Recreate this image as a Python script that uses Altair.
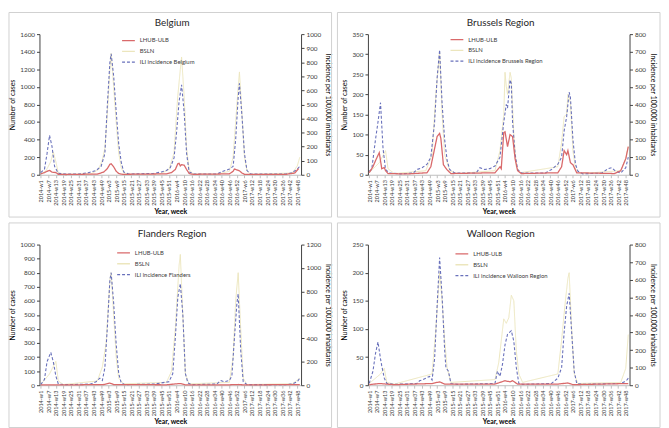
import altair as alt
import pandas as pd

# ---------------- tick labels (every 6th week, index = weeks since 2014-w1) ----
WEEK_TICKS = ["2014-w1", "2014-w7", "2014-w13", "2014-w19", "2014-w25", "2014-w31",
              "2014-w37", "2014-w43", "2014-w49", "2015-w3", "2015-w9", "2015-w15",
              "2015-w21", "2015-w27", "2015-w33", "2015-w39", "2015-w45", "2015-w51",
              "2016-w4", "2016-w10", "2016-w16", "2016-w22", "2016-w28", "2016-w34",
              "2016-w40", "2016-w46", "2016-w52", "2017-w6", "2017-w12", "2017-w18",
              "2017-w24", "2017-w30", "2017-w36", "2017-w42", "2017-w48"]
TICK_POS = [6 * i for i in range(len(WEEK_TICKS))]

# ---------------- Belgium ----------------
BE_LHUB_W = [0, 3, 6, 7, 9, 12, 14, 20, 45, 50, 53, 55, 56, 58, 60, 62, 65, 100, 104, 107, 109, 110, 111, 112, 114, 116, 118, 121, 150, 153, 154, 156, 158, 160, 162, 195, 202, 205]
BE_LHUB_V = [10, 25, 45, 50, 30, 25, 5, 3, 8, 30, 70, 120, 125, 90, 40, 15, 5, 10, 25, 60, 125, 130, 100, 115, 110, 60, 15, 5, 10, 40, 65, 55, 45, 20, 5, 5, 20, 70]
BE_BSLN_W = [0, 4, 8, 10, 12, 14, 18, 40, 46, 49, 51, 53, 55, 56, 58, 60, 62, 64, 66, 70, 95, 102, 106, 108, 109, 111, 112, 114, 116, 118, 121, 140, 150, 153, 155, 157, 158, 160, 162, 164, 167, 200, 204, 206]
BE_BSLN_V = [10, 40, 150, 260, 150, 20, 5, 10, 60, 170, 300, 700, 1200, 1380, 1000, 600, 250, 80, 20, 5, 10, 60, 250, 700, 900, 1200, 1340, 900, 300, 60, 10, 5, 40, 200, 600, 1000, 1170, 700, 200, 40, 5, 20, 100, 200]
BE_ILI_W = [0, 3, 5, 7, 9, 11, 14, 20, 30, 38, 44, 48, 51, 53, 55, 56, 58, 60, 62, 64, 66, 70, 90, 96, 100, 103, 106, 108, 110, 112, 114, 116, 118, 122, 140, 145, 150, 153, 155, 157, 158, 160, 162, 164, 167, 195, 200, 204, 206]
BE_ILI_V = [15, 40, 150, 280, 200, 60, 10, 5, 5, 15, 30, 60, 150, 500, 800, 860, 700, 450, 220, 90, 20, 5, 10, 20, 30, 50, 120, 300, 520, 640, 450, 150, 20, 5, 5, 25, 40, 60, 250, 550, 650, 420, 150, 30, 5, 5, 15, 40, 60]

# ---------------- Brussels Region ----------------
BR_LHUB_W = [0, 3, 5, 8, 10, 12, 13, 15, 30, 46, 49, 51, 54, 56, 57, 59, 62, 65, 100, 104, 105, 107, 108, 110, 112, 114, 116, 118, 121, 150, 153, 155, 157, 158, 160, 162, 165, 195, 200, 204, 206]
BR_LHUB_V = [5, 20, 35, 55, 15, 18, 10, 3, 2, 5, 20, 50, 95, 103, 90, 25, 12, 3, 5, 20, 15, 105, 107, 70, 100, 95, 40, 10, 3, 5, 20, 60, 50, 60, 30, 25, 5, 3, 10, 40, 70]
BR_BSLN_W = [0, 8, 13, 15, 20, 45, 50, 53, 56, 58, 60, 62, 64, 70, 100, 104, 107, 108, 109, 110, 112, 113, 115, 117, 120, 150, 153, 155, 157, 158, 160, 162, 164, 168, 200, 204, 206]
BR_BSLN_V = [5, 30, 60, 15, 3, 10, 50, 200, 305, 150, 50, 30, 10, 3, 10, 60, 150, 255, 220, 200, 255, 240, 100, 20, 5, 20, 80, 145, 150, 200, 180, 60, 15, 3, 10, 40, 70]
BR_ILI_W = [0, 2, 5, 7, 9, 11, 13, 16, 25, 35, 38, 42, 46, 49, 52, 54, 56, 58, 60, 62, 64, 68, 85, 88, 92, 96, 100, 104, 107, 109, 110, 112, 113, 114, 116, 118, 121, 140, 145, 150, 153, 155, 157, 159, 160, 162, 164, 166, 170, 185, 190, 193, 196, 200, 204, 206]
BR_ILI_V = [20, 30, 200, 300, 410, 150, 30, 10, 5, 10, 30, 40, 60, 100, 300, 550, 710, 400, 200, 80, 30, 10, 10, 40, 30, 35, 50, 100, 300, 400, 380, 540, 520, 300, 120, 30, 10, 10, 30, 60, 100, 250, 330, 470, 440, 200, 60, 20, 5, 10, 35, 40, 20, 10, 40, 100]

# ---------------- Flanders Region ----------------
FL_LHUB_W = [0, 20, 50, 55, 58, 100, 108, 111, 115, 150, 157, 162, 206]
FL_LHUB_V = [3, 2, 5, 15, 5, 3, 10, 12, 3, 3, 5, 2, 5]
FL_BSLN_W = [0, 7, 12, 14, 18, 45, 49, 52, 55, 56, 58, 60, 62, 66, 100, 104, 107, 110, 111, 113, 115, 118, 150, 153, 155, 157, 159, 161, 164, 200, 206]
FL_BSLN_V = [5, 80, 170, 30, 5, 30, 130, 300, 750, 800, 500, 200, 50, 10, 20, 100, 400, 850, 930, 500, 80, 10, 20, 200, 600, 800, 400, 50, 5, 10, 50]
FL_ILI_W = [0, 3, 5, 8, 10, 12, 14, 20, 40, 44, 47, 49, 51, 53, 55, 56, 58, 60, 62, 64, 67, 90, 96, 102, 105, 107, 109, 111, 113, 115, 117, 120, 140, 143, 146, 150, 152, 154, 156, 157, 159, 161, 164, 195, 200, 204, 206]
FL_ILI_V = [5, 50, 200, 280, 200, 80, 10, 5, 10, 30, 60, 40, 150, 500, 900, 960, 700, 350, 100, 20, 5, 10, 20, 30, 100, 400, 750, 866, 600, 100, 20, 5, 10, 40, 30, 40, 80, 400, 700, 780, 300, 30, 5, 5, 10, 30, 60]

# ---------------- Walloon Region ----------------
WA_LHUB_W = [0, 8, 20, 50, 56, 60, 100, 108, 112, 114, 118, 150, 158, 162, 206]
WA_LHUB_V = [1, 3, 1, 3, 6, 2, 2, 8, 6, 8, 2, 2, 4, 1, 3]
WA_BSLN_W = [0, 9, 12, 14, 20, 50, 53, 56, 58, 60, 62, 65, 100, 103, 107, 109, 111, 113, 115, 117, 119, 122, 150, 153, 156, 158, 159, 161, 163, 166, 200, 204, 206]
WA_BSLN_V = [3, 20, 30, 5, 2, 20, 100, 200, 150, 80, 30, 5, 10, 40, 118, 110, 120, 160, 150, 60, 20, 5, 20, 80, 150, 190, 200, 100, 20, 3, 5, 30, 90]
WA_ILI_W = [0, 3, 5, 7, 9, 10, 12, 14, 20, 38, 40, 42, 45, 48, 50, 52, 54, 56, 58, 60, 61, 63, 65, 70, 100, 102, 104, 106, 108, 110, 113, 115, 117, 119, 122, 145, 150, 153, 155, 157, 159, 161, 163, 165, 170, 200, 203, 205, 206]
WA_ILI_V = [10, 80, 180, 246, 150, 110, 40, 10, 5, 10, 25, 30, 40, 50, 30, 150, 450, 726, 500, 200, 100, 80, 10, 5, 10, 80, 50, 120, 230, 290, 310, 250, 100, 10, 5, 10, 40, 100, 300, 450, 523, 300, 80, 10, 5, 10, 20, 30, 40]

COLORS = ["#d9696a", "#ece6bd", "#6870bb"]
DASHES = [[1, 0], [1, 0], [3, 2]]
FONT = "Lato"

PLOT_W, PLOT_H = 266, 143
BOX_L, BOX_T, BOX_W, BOX_H = 31, 22, 328, 208

label_expr = "[" + ",".join("'%s'" % t for t in WEEK_TICKS) + "][datum.value / 6]"


def panel(title, ili_label, lhub, bsln, ili, left_max, left_step, right_max, right_step, lx, ly):
    names = ["LHUB-ULB", "BSLN", ili_label]
    rows = []
    for name, (wk, vals) in zip(names, [lhub, bsln, ili]):
        for w, v in zip(wk, vals):
            rows.append({"week": w, "value": v, "series": name})
    df = pd.DataFrame(rows)

    leg = alt.Legend(title=None, orient="none", legendX=lx, legendY=ly,
                     symbolType="stroke", symbolSize=169, symbolStrokeWidth=1.3,
                     labelFontSize=6, labelFont=FONT, labelColor="#404040",
                     rowPadding=0, labelOffset=4)
    color = alt.Color("series:N", scale=alt.Scale(domain=names, range=COLORS), legend=leg)
    dash = alt.StrokeDash("series:N", scale=alt.Scale(domain=names, range=DASHES), legend=leg)
    x = alt.X("week:Q", scale=alt.Scale(domain=[-1, 207], nice=False, zero=False),
              axis=alt.Axis(values=TICK_POS, labelExpr=label_expr, labelAngle=-90,
                            labelAlign="right", labelBaseline="middle",
                            title="Year, week", titleFontWeight="bold", titleFontSize=7,
                            titlePadding=2, labelFontSize=5.6, grid=False,
                            domainColor="#bfbfbf", tickColor="#bfbfbf", tickSize=3,
                            labelPadding=2, labelColor="#404040", labelFlush=False,
                            labelOverlap=False))
    base = alt.Chart(df).encode(x=x, color=color, strokeDash=dash)

    def ycfg(mx, step, orient, ttl, show=True):
        if show:
            ax = alt.Axis(orient=orient, title=ttl, values=list(range(0, mx + 1, step)),
                          format="d", grid=False, domainColor="#404040", tickColor="#404040",
                          tickSize=3, labelFontSize=6.5, labelColor="#404040",
                          titleFontSize=7, titleFontWeight="normal", titlePadding=4,
                          labelPadding=2)
            return alt.Y("value:Q", scale=alt.Scale(domain=[0, mx], nice=False), axis=ax)
        return alt.Y("value:Q", scale=alt.Scale(domain=[0, mx], nice=False), axis=None)

    l_bsln = base.transform_filter(alt.datum.series == "BSLN").mark_line(
        strokeWidth=1).encode(y=ycfg(left_max, left_step, "left", "", show=False))
    l_ili = base.transform_filter(alt.datum.series == ili_label).mark_line(
        strokeWidth=1.1).encode(y=ycfg(right_max, right_step, "right",
                                       "Incidence per 100,000 inhabitants"))
    l_lhub = base.transform_filter(alt.datum.series == "LHUB-ULB").mark_line(
        strokeWidth=1.3).encode(y=ycfg(left_max, left_step, "left", "Number of cases"))

    one = pd.DataFrame({"k": [0]})
    frame = alt.Chart(one).mark_rect(fillOpacity=0, stroke="#d0d0d0", strokeWidth=1).encode(
        x=alt.value(-BOX_L), x2=alt.value(BOX_W - BOX_L),
        y=alt.value(-BOX_T), y2=alt.value(BOX_H - BOX_T))
    ttl = alt.Chart(one).mark_text(fontSize=10, font=FONT, color="#262626",
                                   align="center", baseline="middle").encode(
        x=alt.value(PLOT_W / 2 + 2), y=alt.value(-11), text=alt.value(title))

    return alt.layer(frame, l_bsln, l_ili, l_lhub, ttl).resolve_scale(
        y="independent").properties(width=PLOT_W, height=PLOT_H)


p1 = panel("Belgium", "ILI incidence Belgium", (BE_LHUB_W, BE_LHUB_V), (BE_BSLN_W, BE_BSLN_V),
           (BE_ILI_W, BE_ILI_V), 1600, 200, 1000, 100, 83, -1)
p2 = panel("Brussels Region", "ILI incidence Brussels Region", (BR_LHUB_W, BR_LHUB_V),
           (BR_BSLN_W, BR_BSLN_V), (BR_ILI_W, BR_ILI_V), 350, 50, 800, 100, 83, -2)
p3 = panel("Flanders Region", "ILI incidence Flanders", (FL_LHUB_W, FL_LHUB_V),
           (FL_BSLN_W, FL_BSLN_V), (FL_ILI_W, FL_ILI_V), 1000, 100, 1200, 200, 78, 1)
p4 = panel("Walloon Region", "ILI incidence Walloon Region", (WA_LHUB_W, WA_LHUB_V),
           (WA_BSLN_W, WA_BSLN_V), (WA_ILI_W, WA_ILI_V), 250, 50, 800, 100, 88, 2)

top = alt.hconcat(p1, p2, spacing=4).resolve_scale(color="independent", strokeDash="independent")
bottom = alt.hconcat(p3, p4, spacing=4).resolve_scale(color="independent", strokeDash="independent")
chart = alt.vconcat(top, bottom, spacing=4).resolve_scale(
    color="independent", strokeDash="independent").properties(
    padding=0, background="white").configure_view(stroke=None).configure_axis(
    labelFont=FONT, titleFont=FONT).configure_text(font=FONT)

chart.save("out.html", embed_options={"renderer": "svg", "actions": False})
